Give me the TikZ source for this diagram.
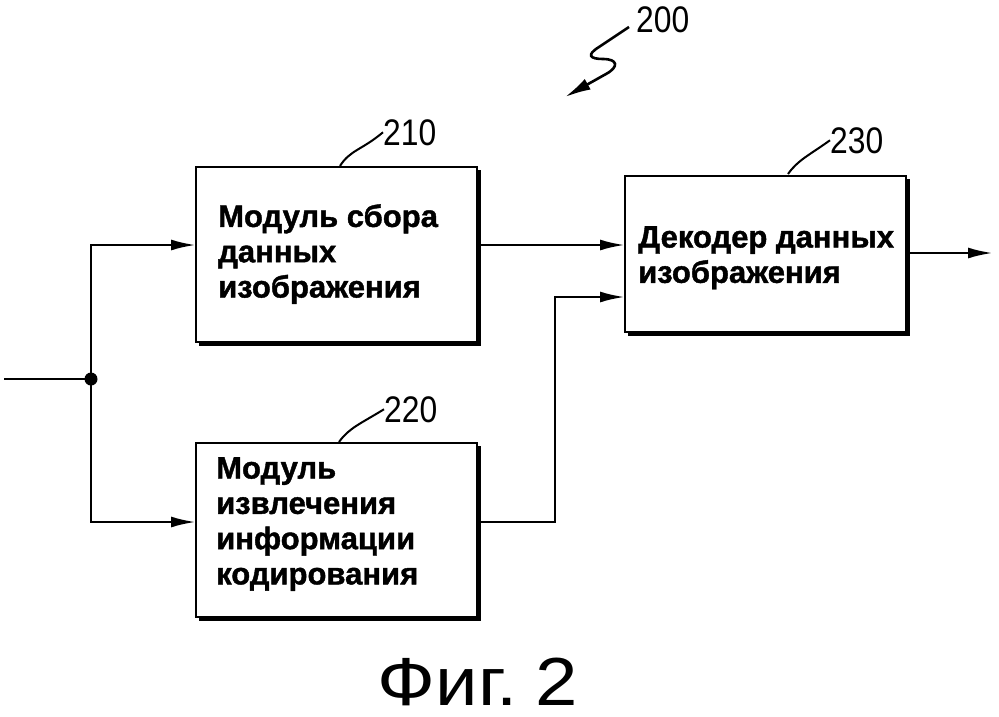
\documentclass[tikz,border=0pt]{standalone}
\usepackage{fontspec}
\setmainfont{Liberation Sans}[BoldFeatures={FakeBold=1.3}]
\usetikzlibrary{arrows.meta,calc}
\begin{document}
\begin{tikzpicture}[x=1pt,y=-1pt,
  box/.style={draw,line width=2.9pt,outer sep=0pt,inner sep=0pt,anchor=north west},
  shadowline/.style={line width=2.9pt},
  boxtext/.style={anchor=north west,inner sep=0pt,align=left,font=\fontsize{31}{35.3}\selectfont\bfseries},
  reftext/.style={anchor=base west,inner sep=0pt,font=\fontsize{37}{40}\selectfont},
  conn/.style={line width=2.7pt},
  arr/.style={conn,-{Latex[length=25pt,width=11pt]}},
  leader/.style={line width=2pt}]
\useasboundingbox (0,0) rectangle (999,716);

% boxes
\node[box,minimum width=281pt,minimum height=175pt] (b210) at (196,167) {};
\node[box,minimum width=281pt,minimum height=174pt] (b220) at (196,443) {};
\node[box,minimum width=281pt,minimum height=156pt] (b230) at (625,176) {};

% box shadows
\foreach \b in {b210,b220,b230}{
  \draw[shadowline] ($(\b.north east)+(2.4,3)$) -- ($(\b.south east)+(2.4,2.4)$) -- ($(\b.south west)+(3,2.4)$);
}

% texts
\node[boxtext] (t210) at (218,204) {Модуль сбора\\данных\\изображения};
\node[boxtext] (t220) at (216,457) {Модуль\\извлечения\\информации\\кодирования};
\node[boxtext] (t230) at (638,226) {Декодер данных\\изображения};

% reference numbers
\node[reftext] (r200) at (636,32) {\scalebox{0.86}[1]{200}};
\node[reftext] (r210) at (383,145) {\scalebox{0.86}[1]{210}};
\node[reftext] (r220) at (384,422) {\scalebox{0.86}[1]{220}};
\node[reftext] (r230) at (830,153) {\scalebox{0.86}[1]{230}};

% leaders
\draw[leader] (340,166) .. controls (350,150) and (362,150) .. (r210.west);
\draw[leader] (339,442) .. controls (349,428) and (360,424) .. (r220.west);
\draw[leader] (788,174) .. controls (798,160) and (808,156) .. (r230.west);

% squiggle for 200
\coordinate (s0) at (629,27);
\coordinate (s1) at (565,97);
\draw[line width=2.6pt,-{Latex[length=26pt,width=12pt]}] (s0) -- (599,47)
  .. controls (586,55) and (590,59) .. (603,59)
  .. controls (618,59) and (619,67) .. (606,74) -- (s1);

% input and junction
\coordinate (in) at (4,379);
\coordinate (j) at (91,379);
\draw[conn] (in) -- (j);
\fill (j) circle (6.5pt);
\draw[arr] (j) |- ([yshift=9.5pt]b210.west);
\draw[arr] (j) |- ([yshift=8pt]b220.west);

% between blocks
\draw[arr] ([yshift=9.5pt]b210.east) -- ([yshift=9pt]b230.west);
\draw[arr] ([yshift=8pt]b220.east) -- ++(78,0) |- ([yshift=-43pt]b230.west);

% output
\coordinate (out) at (993,253);
\draw[arr] ([yshift=1pt]b230.east) -- (out);

% caption
\node[anchor=base,inner sep=0pt,font=\fontsize{68}{72}\selectfont] (cap) at (478,705) {\scalebox{1.12}[1]{Фиг.\hspace{16pt}2}};
\end{tikzpicture}
\end{document}
